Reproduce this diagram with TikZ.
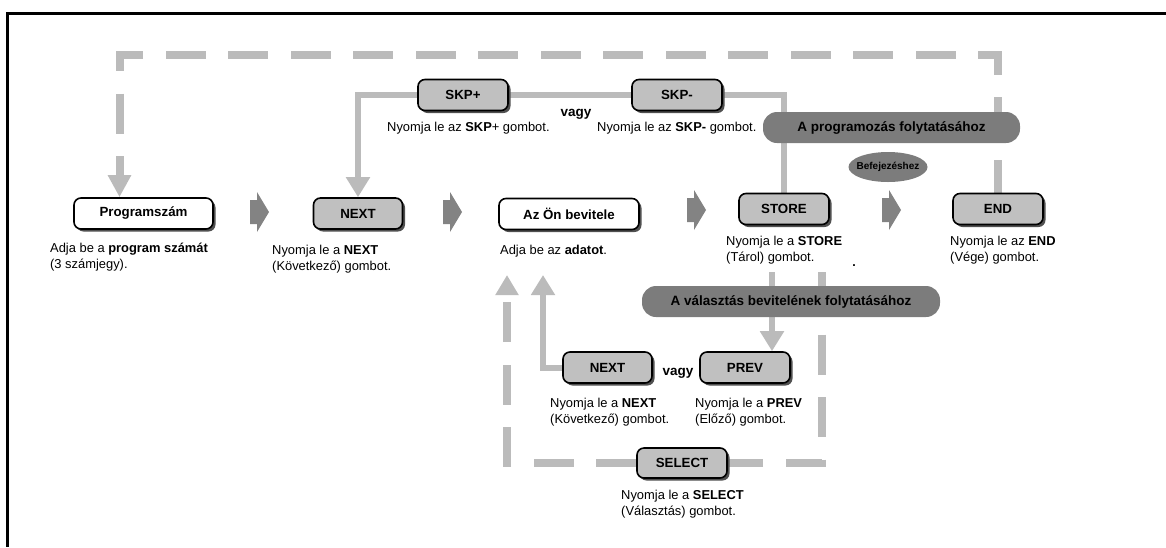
\documentclass[tikz,border=0pt]{standalone}
\usepackage{fontspec}
\setmainfont{Liberation Sans}
\usetikzlibrary{arrows.meta,positioning,shapes.geometric,shadows,backgrounds}
\definecolor{kbKey}{HTML}{C0C0C0}
\definecolor{kbWire}{HTML}{BBBBBB}
\definecolor{kbTag}{HTML}{7C7C7C}
\definecolor{kbArrow}{HTML}{838383}
\definecolor{kbShadow}{HTML}{505050}
\tikzset{
    keybox/.style={draw=black, line width=1.6pt, rounded corners=7pt, fill=kbKey, align=center, minimum width=89pt, minimum height=31pt, inner sep=2pt, font=\fontsize{13.3}{15}\selectfont\bfseries, drop shadow={shadow xshift=2.5pt, shadow yshift=-2.5pt, fill=kbShadow, opacity=1}},
    inbox/.style={keybox, fill=white},
    hint/.style={anchor=north west, align=left, inner sep=0pt, font=\fontsize{12.9}{16}\selectfont},
    tagbar/.style={fill=kbTag, rounded corners=14pt, minimum height=31pt, inner sep=2pt, font=\fontsize{13.5}{15}\selectfont\bfseries},
    orword/.style={anchor=base, inner sep=0pt, font=\fontsize{13.5}{15}\selectfont\bfseries},
    wire/.style={draw=kbWire, line width=6pt},
    dashwire/.style={draw=kbWire, line width=8pt, dash pattern=on 40pt off 22.5pt},
    wiretip/.style={-{Triangle[width=23pt,length=20pt]}},
    pics/blockarrow/.style={code={\fill[kbArrow] (-9,-12) -- (-2,-12) -- (-2,-20) -- (10,0) -- (-2,20) -- (-2,12) -- (-9,12) -- cycle;}}
}

\begin{document}
\begin{tikzpicture}[x=1pt, y=-1pt]
\useasboundingbox (0,0) rectangle (1166,547);
\draw[line width=3pt] (1166,13) -- (7,13) -- (7,547);

\node[inbox, minimum width=139pt] (prog) at (143.5,213.5) {Programszám};
\node[keybox] (next) at (358,213.5) {NEXT};
\node[inbox, minimum width=140pt] (input) at (569,214) {Az Ön bevitele};
\node[keybox, minimum width=90pt] (store) at (784,209) {STORE};
\node[keybox, minimum width=90pt] (endb) at (998,209) {END};
\node[keybox, minimum width=90pt] (skpp) at (463,95) {SKP+};
\node[keybox, minimum width=90pt] (skpm) at (677,95) {SKP-};
\node[keybox] (nextb) at (607.5,367.5) {NEXT};
\node[keybox, minimum width=90pt] (prev) at (745,367.5) {PREV};
\node[keybox, minimum width=90pt, minimum height=30pt] (select) at (682,463) {SELECT};

\node[tagbar, minimum width=257pt] (tagprog) at (891.5,127.5) {A programozás folytatásához};
\node[tagbar, minimum width=298pt] (tagsel) at (791,301.5) {A választás bevitelének folytatásához};
\node[ellipse, fill=kbTag, minimum width=79pt, minimum height=30pt, inner xsep=-4pt, inner ysep=4pt, font=\fontsize{10}{12}\selectfont\bfseries] (befej) at (888,167) {Befejezéshez};

\node[hint] (progtxt) at (50,242.5) {Adja be a \textbf{program számát}\\(3 számjegy).};
\node[hint] (nexttxt) at (272,244.5) {Nyomja le a \textbf{NEXT}\\(Következő) gombot.};
\node[hint] (inputtxt) at (500,244.5) {Adja be az \textbf{adatot}.};
\node[hint] (storetxt) at (726,236) {Nyomja le a \textbf{STORE}\\(Tárol) gombot.};
\node[hint] (endtxt) at (950,236) {Nyomja le az \textbf{END}\\(Vége) gombot.};
\node[hint] (skpptxt) at (387,121.5) {Nyomja le az \textbf{SKP}+ gombot.};
\node[hint] (skpmtxt) at (597,121.5) {Nyomja le az \textbf{SKP-} gombot.};
\node[hint] (nextbtxt) at (550,397.5) {Nyomja le a \textbf{NEXT}\\(Következő) gombot.};
\node[hint] (prevtxt) at (695,397.5) {Nyomja le a \textbf{PREV}\\(Előző) gombot.};
\node[hint] (selecttxt) at (621,490) {Nyomja le a \textbf{SELECT}\\(Választás) gombot.};

\node[orword] (vagytop) at (576,116) {vagy};
\node[orword] (vagylow) at (678,375) {vagy};
\node[anchor=base, inner sep=0pt, font=\fontsize{12.5}{16}\selectfont\bfseries] (mark) at (854,266) {.};

\pic (arr1) at (259,212) {blockarrow};
\pic (arr2) at (452,212) {blockarrow};
\pic (arr3) at (696,210) {blockarrow};
\pic (arr4) at (891,210) {blockarrow};

\coordinate (storeout) at (772,272);
\coordinate (loopstart) at (822,272);
\coordinate (inputin) at (507,275);
\coordinate (nextbup) at (543,275);

\begin{scope}[on background layer]
\draw[dashwire, dash phase=7pt, -{Triangle[width=22pt,length=22pt]}] (endb.north) -- ++(0,-138) -| ([xshift=-24pt]prog.north);
\draw[wire, wiretip] (store.north) |- (skpm) -- (skpp) -| (next.north);
\draw[wire, wiretip] (storeout) -- (storeout |- prev.north);
\draw[dashwire, -{Triangle[width=22pt,length=20pt]}] (loopstart) |- (select) -| (inputin);
\draw[wire, wiretip] (nextb.west) -| (nextbup);
\end{scope}
\end{tikzpicture}
\end{document}
